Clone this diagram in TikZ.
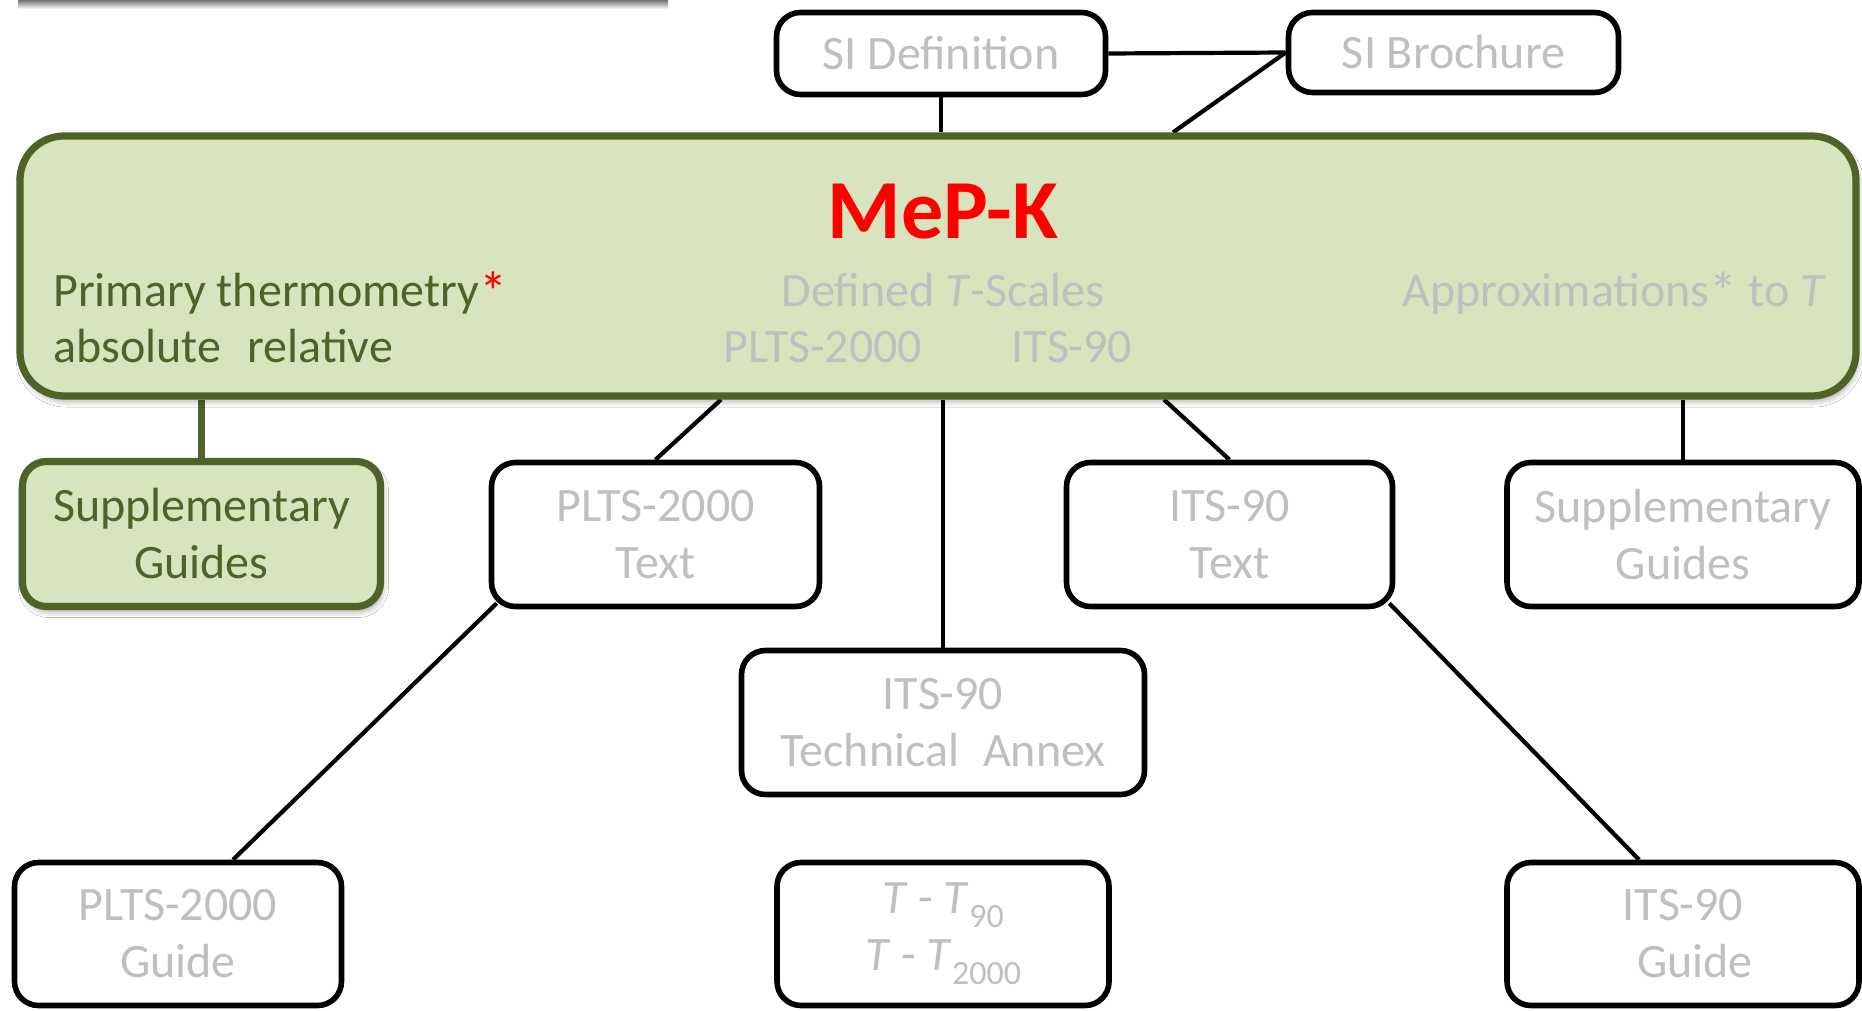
\documentclass[tikz,border=0pt]{standalone}
\usepackage{fontspec}
\setmainfont{Carlito}
\usetikzlibrary{shadows.blur,calc}
\definecolor{gfill}{HTML}{D7E4BD}
\definecolor{gdark}{HTML}{4F6228}
\definecolor{gtext}{HTML}{BFBFBF}
\definecolor{mred}{HTML}{FF0000}
\pgfdeclarelayer{background}
\pgfsetlayers{background,main}
\newcommand{\subsc}[1]{\raisebox{-0.3em}{\fontsize{17}{17}\selectfont #1}}
\newcommand{\astk}{\raisebox{-0.12em}{\fontsize{28}{28}\selectfont *}}
\begin{document}
\begin{tikzpicture}[x=0.5pt,y=-0.5pt,
  txt/.style={font=\fontsize{24}{28.5}\selectfont, inner sep=0pt},
  box/.style={txt, draw=black, line width=2.8pt, rounded corners=12pt, fill=white, align=center, text=gtext},
  gbox/.style={txt, draw=gdark, line width=3.6pt, rounded corners=12pt, fill=gfill, align=center, text=gdark,
     blur shadow={shadow xshift=1pt, shadow yshift=-2.5pt, shadow blur radius=3pt, shadow opacity=35}},
  conn/.style={line width=2.1pt, draw=black},
  gconn/.style={line width=3.6pt, draw=gdark},
]
\useasboundingbox (0,0) rectangle (1862,1011);

% big green box
\node[gbox, rounded corners=22pt, minimum width=918pt, minimum height=130pt] (mepk) at (938,266) {};
\node[txt, font=\fontsize{42}{42}\bfseries\selectfont, text=mred, anchor=base] (title) at (943,238) {MeP-K};
\node[txt, text=gdark, anchor=base west] (prim) at (53,306) {Primary thermometry\textcolor{mred}{\astk}};
\node[txt, text=gdark, anchor=base west] (absrel) at (53,362) {absolute\hspace{0.55em}relative};
\node[txt, text=gtext, anchor=base] (defined) at (943,306) {Defined \textit{T}-Scales};
\node[txt, text=gtext, anchor=base east] (approx) at (1826,306) {Approximations\astk{} to \textit{T}};
\node[txt, text=gtext, anchor=base] (plts) at (823,362) {PLTS-2000};
\node[txt, text=gtext, anchor=base] (its) at (1072,362) {ITS-90};

% top boxes
\node[box, minimum width=164.5pt, minimum height=41pt] (sidef) at (941,53.5) {SI Definition};
\node[box, minimum width=165pt, minimum height=40pt] (sibro) at (1453.5,52.5) {SI Brochure};

% row 3
\node[gbox, minimum width=179pt, minimum height=72.5pt] (suppl) at (201.5,534) {Supplementary\\Guides};
\node[box, minimum width=164pt, minimum height=72pt] (pltstext) at (655.5,534.5) {PLTS-2000\\Text};
\node[box, minimum width=163pt, minimum height=72pt] (itstext) at (1229.5,534.5) {ITS-90\\Text};
\node[box, minimum width=176pt, minimum height=72pt] (suppr) at (1683,534.5) {Supplementary\\Guides};
\node[box, minimum width=201.5pt, minimum height=72pt] (annex) at (943,722.5) {ITS-90\\Technical\hspace{0.5em}Annex};

% bottom row
\node[box, minimum width=163.5pt, minimum height=71.5pt] (pltsguide) at (178,934) {PLTS-2000\\Guide};
\node[box, minimum width=166pt, minimum height=71.5pt] (tt) at (943,934) {\textit{T} - \textit{T}\subsc{90}\\\textit{T} - \textit{T}\subsc{2000}};
\node[box, minimum width=176pt, minimum height=71.5pt] (itsguide) at (1683,934) {ITS-90\\\hspace*{0.5em}Guide};

\begin{pgfonlayer}{background}
\fill[white] (0,0) rectangle (1862,1011);
% cut-off shadow at top
\shade[top color=black!55, bottom color=white] (18,0) rectangle (668,9);
\draw[conn] (sidef.east) -- (sibro.west);
\draw[conn] (sibro.west) -- (mepk.north -| 1173,0);
\draw[conn] (sidef.south) -- (sidef.south |- mepk.north);
\draw[gconn] (mepk.south -| suppl.north) -- (suppl.north);
\draw[conn] (mepk.south -| 721,0) -- (pltstext.north);
\draw[conn] (mepk.south -| annex.north) -- (annex.north);
\draw[conn] (mepk.south -| 1164,0) -- (itstext.north);
\draw[conn] (mepk.south -| suppr.north) -- (suppr.north);
\draw[conn] ([xshift=4pt,yshift=3pt]pltstext.south west) -- (pltsguide.north -| 233,0);
\draw[conn] ([xshift=-3pt,yshift=3pt]itstext.south east) -- (itsguide.north -| 1639,0);
\end{pgfonlayer}
\end{tikzpicture}
\end{document}
